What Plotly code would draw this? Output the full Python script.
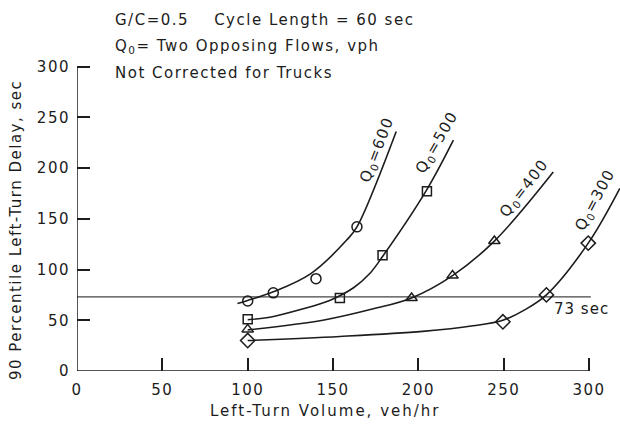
import plotly.graph_objects as go

# Drawn curves (points along each faired line)
q600_curve_x = [94, 100, 115, 137, 158, 164, 187]
q600_curve_y = [66.5, 69.5, 78, 96, 129, 142, 236]
q500_curve_x = [100, 113, 132, 148, 162, 171.5, 179.5, 204.5, 220.5]
q500_curve_y = [50.5, 53, 61, 69.5, 82, 96, 114, 177.5, 227.5]
q400_curve_x = [100, 144, 173, 196, 220, 244.5, 279]
q400_curve_y = [40.5, 50, 61, 72, 94, 128, 196]
q300_curve_x = [100, 154, 202.5, 232, 249.5, 262, 275, 299.5, 318]
q300_curve_y = [30, 34, 39, 44.5, 50, 60, 75, 126, 180]

# Observed points
q600_x = [100, 115, 140, 164]
q600_y = [69, 77, 91, 142]
q500_x = [100, 154, 179, 205]
q500_y = [51, 72, 114, 177]
q400_x = [100, 196, 220, 244.5]
q400_y = [41, 72, 94, 128]
q300_x = [100, 249.5, 275, 299.5]
q300_y = [30, 48.5, 75, 126]

threshold_delay = 73
x_ticks = [0, 50, 100, 150, 200, 250, 300]
y_ticks = [0, 50, 100, 150, 200, 250, 300]

INK = "#1c1c1c"
FONT = "DejaVu Sans"
W, H = 620, 428
ML, MR, MT, MB = 77, 0, 26, 57


def spaced(text, px=1.5):
    return f'<span style="letter-spacing:{px}px">{text}</span>'


def paper_x(px):
    return (px - ML) / (W - ML - MR)


def paper_y(py):
    return 1 - (py - MT) / (H - MT - MB)


fig = go.Figure()

series = [
    (q600_curve_x, q600_curve_y, q600_x, q600_y, "circle-open", 10),
    (q500_curve_x, q500_curve_y, q500_x, q500_y, "square-open", 9),
    (q400_curve_x, q400_curve_y, q400_x, q400_y, "triangle-up-open", 10),
    (q300_curve_x, q300_curve_y, q300_x, q300_y, "diamond-open", 11),
]

# 73-second reference line
fig.add_trace(go.Scatter(
    x=[0, 301], y=[threshold_delay, threshold_delay], mode="lines",
    line=dict(color="#444", width=1.2), hoverinfo="skip", showlegend=False))

for cx, cy, px, py, sym, size in series:
    fig.add_trace(go.Scatter(
        x=cx, y=cy, mode="lines",
        line=dict(color=INK, width=1.6, shape="spline", smoothing=1.0),
        showlegend=False, hoverinfo="skip"))
    fig.add_trace(go.Scatter(
        x=px, y=py, mode="markers",
        marker=dict(symbol=sym, size=size, color=INK, line=dict(width=1.5, color=INK)),
        showlegend=False))

# Axis lines drawn only over 0..300
fig.add_shape(type="line", x0=0, x1=300, y0=0, y1=0, xref="x", yref="y",
              line=dict(color=INK, width=1.5))
fig.add_shape(type="line", x0=0, x1=0, y0=0, y1=300, xref="x", yref="y",
              line=dict(color=INK, width=1.5))

ann_font = dict(family=FONT, size=15, color=INK)

# Curve labels
curve_labels = [
    ("Q<sub>0</sub>=600", 176, 218, -69, 1.5),
    ("Q<sub>0</sub>=500", 211, 225, -60, 1.5),
    ("Q<sub>0</sub>=400", 262, 180, -52, 1.5),
    ("Q<sub>0</sub>=300", 303.5, 168, -62, 1.2),
]
for text, x, y, ang, sp in curve_labels:
    fig.add_annotation(x=x, y=y, xref="x", yref="y", text=spaced(text, sp), showarrow=False,
                       textangle=ang, font=ann_font)

fig.add_annotation(x=278, y=61, xref="x", yref="y", text=spaced("73 sec", 1),
                   showarrow=False, xanchor="left", font=ann_font)

# Header notes
header = [
    ("G/C=0.5&nbsp;&nbsp;&nbsp;&nbsp;Cycle Length = 60 sec", 20),
    ("Q<sub>0</sub>= Two Opposing Flows, vph", 47),
    ("Not Corrected for Trucks", 73),
]
for text, py in header:
    fig.add_annotation(x=paper_x(113), y=paper_y(py), xref="paper", yref="paper",
                       text=spaced(text, 1.5), showarrow=False,
                       xanchor="left", yanchor="middle", font=ann_font)

# Axis titles
fig.add_annotation(x=paper_x(325), y=paper_y(411), xref="paper", yref="paper",
                   text=spaced("Left-Turn Volume, veh/hr", 2), showarrow=False,
                   xanchor="center", yanchor="middle", font=ann_font)
fig.add_annotation(x=paper_x(16), y=paper_y(230), xref="paper", yref="paper",
                   text=spaced("90 Percentile Left-Turn Delay, sec", 1.5),
                   showarrow=False, textangle=-90, xanchor="center", yanchor="middle",
                   font=ann_font)

fig.update_layout(
    width=W, height=H,
    margin=dict(l=ML, r=MR, t=MT, b=MB),
    paper_bgcolor="white", plot_bgcolor="white",
    font=dict(family=FONT, size=15, color=INK),
)
fig.update_xaxes(range=[0, (W - ML - MR) / 1.707], tickvals=x_ticks,
                 ticktext=[spaced(str(v)) for v in x_ticks], ticks="inside",
                 ticklen=13, tickwidth=1.5, tickcolor=INK, showline=False,
                 showgrid=False, zeroline=False, tickfont=dict(size=15),
                 ticklabelstandoff=8)
fig.update_yaxes(range=[0, (H - MT - MB) / 1.015], tickvals=y_ticks,
                 ticktext=[spaced(str(v)) for v in y_ticks], ticks="inside",
                 ticklen=13, tickwidth=1.5, tickcolor=INK, showline=False,
                 showgrid=False, zeroline=False, tickfont=dict(size=15),
                 ticklabelstandoff=6)

fig.write_html("out.html")
